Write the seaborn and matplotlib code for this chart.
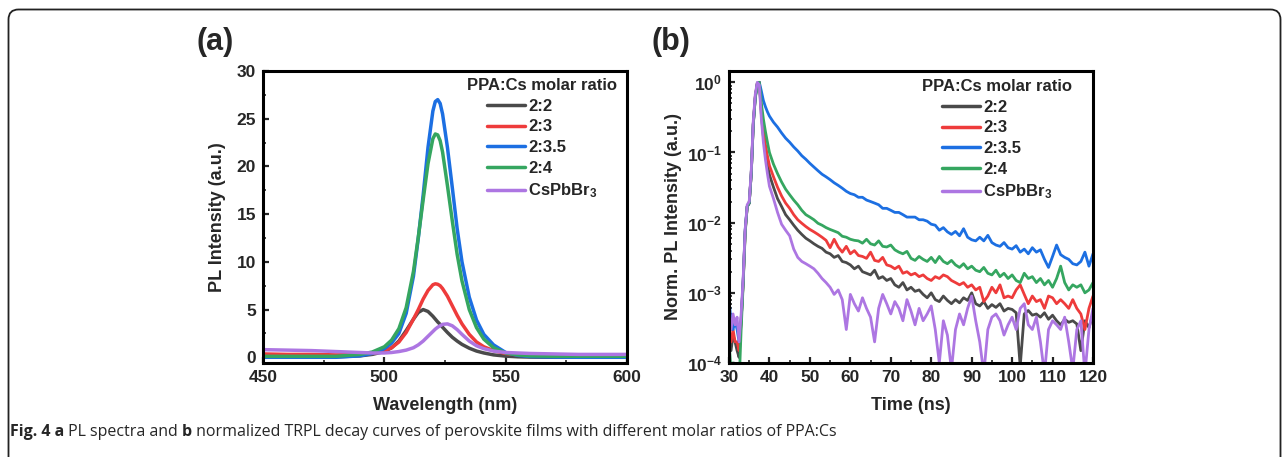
import matplotlib
matplotlib.use("Agg")
import numpy as np
import pandas as pd
import seaborn as sns
import matplotlib.pyplot as plt
from matplotlib.ticker import MultipleLocator, LogLocator, NullFormatter
from matplotlib.path import Path
from matplotlib.patches import PathPatch

# ---------------- data: panel (a) PL spectra ----------------
wavelength = [450, 460, 470, 480, 490, 495, 500, 503, 506, 509, 512, 514, 516, 518,
              520, 521, 522, 523, 524, 526, 528, 530, 532, 535, 538, 541, 545, 550,
              555, 560, 570, 580, 590, 600]
pl_2_2 = [0.05, 0.05, 0.05, 0.05, 0.15, 0.3, 0.6, 1.0, 1.7, 2.8, 4.0, 4.7, 5.0, 4.8,
          4.3, 4.0, 3.7, 3.45, 3.15, 2.6, 2.1, 1.7, 1.35, 0.95, 0.65, 0.45, 0.25, 0.12,
          0.05, 0.02, 0.0, 0.0, 0.0, 0.0]
pl_2_3 = [0.35, 0.3, 0.3, 0.25, 0.3, 0.4, 0.7, 1.0, 1.6, 2.6, 4.0, 5.0, 6.1, 7.0,
          7.6, 7.7, 7.65, 7.5, 7.2, 6.4, 5.4, 4.4, 3.5, 2.4, 1.6, 1.1, 0.7, 0.4,
          0.25, 0.15, 0.1, 0.1, 0.1, 0.1]
pl_2_35 = [0.0, 0.0, 0.0, 0.0, 0.15, 0.4, 0.9, 1.5, 2.5, 4.6, 8.5, 12.5, 17.0, 22.0,
           25.8, 26.8, 27.0, 26.6, 25.5, 22.0, 17.8, 13.5, 10.0, 6.3, 3.9, 2.4, 1.3, 0.5,
           0.2, 0.08, 0.02, 0.0, 0.0, 0.0]
pl_2_4 = [0.1, 0.1, 0.1, 0.1, 0.3, 0.55, 1.1, 1.8, 3.0, 5.2, 9.0, 12.6, 16.5, 20.3,
          22.9, 23.4, 23.3, 22.7, 21.5, 18.0, 14.3, 10.8, 8.0, 5.0, 3.1, 1.9, 1.0, 0.45,
          0.25, 0.15, 0.1, 0.1, 0.1, 0.1]
pl_cspbbr3 = [0.8, 0.75, 0.7, 0.6, 0.5, 0.45, 0.45, 0.5, 0.6, 0.75, 1.0, 1.3, 1.7, 2.2,
              2.7, 2.95, 3.15, 3.3, 3.45, 3.5, 3.3, 2.9, 2.4, 1.7, 1.2, 0.9, 0.65, 0.5,
              0.45, 0.4, 0.35, 0.3, 0.3, 0.3]

# ---------------- data: panel (b) TRPL decays ----------------
time_ns = [30, 30.5, 31, 31.5, 32, 32.5, 33, 33.5, 34, 34.5, 35, 35.5, 36, 36.5, 37, 37.5,
           38, 38.5, 39, 39.5, 40,
           41, 42, 43, 44, 45, 46, 47, 48, 49, 50, 51, 52, 53, 54, 55, 56, 57, 58, 59, 60,
           61, 62, 63, 64, 65, 66, 67, 68, 69, 70, 71, 72, 73, 74, 75, 76, 77, 78, 79, 80,
           81, 82, 83, 84, 85, 86, 87, 88, 89, 90, 91, 92, 93, 94, 95, 96, 97, 98, 99, 100,
           101, 102, 103, 104, 105, 106, 107, 108, 109, 110, 111, 112, 113, 114, 115, 116, 117, 118, 119, 120]
tr_2_2 = [2e-4, 1.5e-4, 2.5e-4, 2e-4, 1.5e-4, 1.2e-4, 4e-4, 1.4e-3, 7.5e-3, 1.7e-2, 1.9e-2, 5e-2, 0.26, 0.63, 0.98, 1.0,
          0.35, 0.17, 0.1, 0.068, 0.048,
          0.032, 0.022, 0.017, 0.013, 0.011, 0.0092, 0.0078, 0.0068, 0.006, 0.0055,
          0.005, 0.0046, 0.0043, 0.0038, 0.0036, 0.0032, 0.0034, 0.0028, 0.0027, 0.0025,
          0.0022, 0.0024, 0.002, 0.0019, 0.0018, 0.0021, 0.0016, 0.0017, 0.0015, 0.0016,
          0.0013, 0.0012, 0.0014, 0.0011, 0.0012, 0.00105, 0.0011, 0.00095, 0.00085, 0.001,
          0.0008, 0.00075, 0.0009, 0.00078, 0.0007, 0.0008, 0.00072, 0.00085, 0.00078, 0.001,
          0.0007, 0.00065, 0.00075, 0.0006, 0.00068, 0.00062, 0.0007, 0.00055, 0.0006, 0.00058,
          0.00052, 0.00009, 0.0005, 0.00056, 0.00048, 0.0005, 0.00045, 0.00052, 0.00042, 0.00048,
          0.0004, 0.00035, 0.00042, 0.00038, 0.0004, 0.00036, 0.00015, 0.0004, 0.00032, 0.0005]
tr_2_3 = [3e-4, 2e-4, 3e-4, 2e-4, 2e-4, 1.5e-4, 4e-4, 1.4e-3, 7.5e-3, 1.7e-2, 1.9e-2, 5e-2, 0.25, 0.62, 0.97, 1.0,
          0.4, 0.21, 0.13, 0.09, 0.065,
          0.045, 0.032, 0.024, 0.019, 0.016, 0.013, 0.011, 0.0098, 0.0088, 0.008,
          0.0074, 0.0068, 0.0062, 0.0056, 0.0044, 0.0058, 0.0045, 0.0038, 0.0046, 0.0036,
          0.004, 0.0034, 0.0033, 0.0031, 0.0038, 0.0029, 0.0028, 0.0032, 0.0025, 0.0024,
          0.0022, 0.0024, 0.0019, 0.002, 0.0018, 0.0019, 0.0017, 0.0018, 0.0016, 0.0015,
          0.0017, 0.0016, 0.0018, 0.0017, 0.0015, 0.0014, 0.0013, 0.0014, 0.0012, 0.0013,
          0.0011, 0.0012, 0.00075, 0.0009, 0.0012, 0.001, 0.0013, 0.00085, 0.0009, 0.00085,
          0.0011, 0.0013, 0.00095, 0.0007, 0.0009, 0.00075, 0.0008, 0.0006, 0.0009, 0.00085,
          0.0007, 0.0008, 0.0007, 0.0006, 0.0008, 0.0006, 0.0005, 0.0003, 0.0006, 0.0009]
tr_2_35 = [8e-4, 4e-4, 3e-4, 4e-4, 3e-4, 2e-4, 4e-4, 1.5e-3, 8e-3, 1.7e-2, 1.9e-2, 5e-2, 0.25, 0.6, 0.95, 1.0,
           0.75, 0.55, 0.45, 0.38, 0.33,
           0.27, 0.23, 0.19, 0.16, 0.14, 0.12, 0.105, 0.09, 0.08, 0.07,
           0.062, 0.055, 0.049, 0.045, 0.041, 0.037, 0.034, 0.031, 0.028, 0.026,
           0.025, 0.023, 0.023, 0.021, 0.02, 0.019, 0.018, 0.016, 0.016, 0.015,
           0.014, 0.014, 0.013, 0.012, 0.012, 0.012, 0.011, 0.011, 0.0105, 0.0095,
           0.0092, 0.0078, 0.0085, 0.0074, 0.0068, 0.0075, 0.0065, 0.0082, 0.0062, 0.0057,
           0.0055, 0.0062, 0.0055, 0.0066, 0.0052, 0.0048, 0.0046, 0.0052, 0.0044, 0.0042,
           0.0047, 0.0038, 0.0042, 0.0036, 0.0044, 0.0038, 0.0041, 0.003, 0.0023, 0.0033,
           0.0048, 0.0035, 0.0032, 0.003, 0.0026, 0.0025, 0.0028, 0.0038, 0.0024, 0.0036]
tr_2_4 = [2e-4, 8e-5, 1e-4, 8e-5, 6e-5, 5e-5, 3e-4, 1.3e-3, 7e-3, 1.7e-2, 1.9e-2, 5e-2, 0.25, 0.6, 0.95, 1.0,
          0.5, 0.3, 0.2, 0.14, 0.1,
          0.068, 0.05, 0.038, 0.03, 0.025, 0.021, 0.018, 0.015, 0.013, 0.012,
          0.011, 0.0098, 0.0092, 0.0085, 0.008, 0.0076, 0.0072, 0.0064, 0.0062, 0.0058,
          0.0056, 0.0055, 0.0051, 0.0058, 0.005, 0.0048, 0.0055, 0.0046, 0.0045, 0.0048,
          0.0041, 0.0038, 0.0036, 0.0039, 0.0031, 0.0029, 0.0033, 0.003, 0.0028, 0.0032,
          0.0027, 0.0033, 0.0028, 0.0026, 0.0029, 0.0025, 0.0023, 0.0026, 0.0022, 0.0024,
          0.0021, 0.002, 0.0023, 0.0019, 0.0018, 0.0021, 0.0017, 0.0019, 0.0016, 0.0018,
          0.0015, 0.0014, 0.0019, 0.0016, 0.0017, 0.0014, 0.0016, 0.0013, 0.0015, 0.0012,
          0.0016, 0.0024, 0.0014, 0.0011, 0.0013, 0.0012, 0.0013, 0.001, 0.0011, 0.0014]
tr_cspbbr3 = [5e-4, 3e-4, 5e-4, 3.5e-4, 4.5e-4, 2e-4, 5e-4, 1.6e-3, 8e-3, 1.8e-2, 2e-2, 5.5e-2, 0.28, 0.68, 1.0, 0.92,
              0.3, 0.14, 0.08, 0.05, 0.033,
              0.022, 0.014, 0.0095, 0.0078, 0.0065, 0.0042, 0.0032, 0.0028, 0.0026, 0.0024,
              0.0022, 0.0019, 0.0016, 0.0014, 0.0012, 0.00095, 0.0011, 0.0008, 0.0003, 0.00095,
              0.0007, 0.00055, 0.00085, 0.0006, 0.00045, 0.0002, 0.0006, 0.00095, 0.0007, 0.0005,
              0.00075, 0.0006, 0.0004, 0.0008, 0.00055, 0.00035, 0.0006, 0.0004, 0.0005, 0.00065,
              0.0003, 0.0001, 0.0004, 0.00025, 0.00008, 0.0003, 0.0005, 0.00035, 0.0006, 0.0009,
              0.0004, 0.0002, 0.00007, 0.0003, 0.00045, 0.0005, 0.0004, 0.00025, 0.00035, 0.00045,
              0.0003, 0.0006, 0.0007, 0.00035, 0.0003, 0.00045, 0.0002, 0.00007, 0.0003, 0.0004,
              0.00035, 0.0003, 0.00045, 0.0002, 0.00008, 0.0003, 0.0004, 0.00007, 0.0003, 0.0006]

labels = ["2:2", "2:3", "2:3.5", "2:4", r"CsPbBr$_3$"]
colors = ["#4a4a4a", "#ee3b3b", "#1c6fe2", "#35a660", "#ad76e2"]
legend_title = "PPA:Cs molar ratio"
caption_parts = [("Fig. 4 a", "bold"), (" PL spectra and ", "normal"), ("b", "bold"),
                 (" normalized TRPL decay curves of perovskite films with different molar ratios of PPA:Cs", "normal")]

# ---------------- style ----------------
sns.set_style("ticks")
plt.rcParams.update({
    "font.family": ["Liberation Sans", "DejaVu Sans"],
    "font.weight": "bold",
    "axes.labelweight": "bold",
    "mathtext.fontset": "custom",
    "mathtext.rm": "Liberation Sans:bold",
    "mathtext.it": "Liberation Sans:bold",
    "mathtext.bf": "Liberation Sans:bold",
    "mathtext.default": "rm",
    "axes.linewidth": 2.2,
    "axes.edgecolor": "black",
})

W, H = 1284, 457
fig = plt.figure(figsize=(W / 100, H / 100), dpi=100)

def px_axes(l, t, r, b):
    return fig.add_axes([l / W, 1 - b / H, (r - l) / W, (b - t) / H])

axa = px_axes(263, 71, 627, 363)
axb = px_axes(729, 71, 1093, 363)

pl_series = [pl_2_2, pl_2_3, pl_2_35, pl_2_4, pl_cspbbr3]
tr_series = [tr_2_2, tr_2_3, tr_2_35, tr_2_4, tr_cspbbr3]

for ys, c, lab in zip(pl_series, colors, labels):
    sns.lineplot(x=wavelength, y=ys, color=c, label=lab, ax=axa, linewidth=2.5)
for ys, c, lab in zip(tr_series, colors, labels):
    sns.lineplot(x=time_ns, y=ys, color=c, label=lab, ax=axb, linewidth=2.0)

axa.set_xlim(450, 600)
axa.set_ylim(-0.6, 30)
axa.xaxis.set_major_locator(MultipleLocator(50))
axa.xaxis.set_minor_locator(MultipleLocator(25))
axa.yaxis.set_major_locator(MultipleLocator(5))
axa.yaxis.set_minor_locator(MultipleLocator(2.5))

axb.set_yscale("log")
axb.set_xlim(30, 120)
axb.set_ylim(1e-4, 1.45)
axb.xaxis.set_major_locator(MultipleLocator(10))
axb.xaxis.set_minor_locator(MultipleLocator(5))
axb.yaxis.set_major_locator(LogLocator(base=10, numticks=10))
axb.yaxis.set_minor_locator(LogLocator(base=10, subs=np.arange(2, 10) * 1.0, numticks=20))
axb.yaxis.set_minor_formatter(NullFormatter())

for ax in (axa, axb):
    ax.tick_params(which="major", direction="in", length=4, width=1.6, labelsize=12.5, pad=5)
    ax.tick_params(which="minor", direction="in", length=2.5, width=1.2)
    for s in ax.spines.values():
        s.set_linewidth(2.2)
    for lbl in ax.get_xticklabels() + ax.get_yticklabels():
        lbl.set_fontweight("bold")

axa.set_xlabel("Wavelength (nm)", fontsize=13, fontweight="bold", va="center")
axa.set_ylabel("PL Intensity (a.u.)", fontsize=13, fontweight="bold", va="center")
axb.set_xlabel("Time (ns)", fontsize=13, fontweight="bold", va="center")
axb.set_ylabel("Norm. PL Intensity (a.u.)", fontsize=13, fontweight="bold", va="center")
axa.xaxis.set_label_coords(0.5, -(405 - 363) / 292)
axb.xaxis.set_label_coords(0.5, -(405 - 363) / 292)
axa.yaxis.set_label_coords((217 - 263) / 364, 0.5)
axb.yaxis.set_label_coords((673 - 729) / 364, 0.5)

# legends: (title centre x, top y) in pixels
for ax, (cx, ty) in ((axa, (542, 78)), (axb, (997, 79))):
    leg = ax.legend(loc="upper center", bbox_to_anchor=(cx / W, 1 - ty / H),
                    bbox_transform=fig.transFigure, frameon=False,
                    title=legend_title, fontsize=12, title_fontsize=12,
                    handlelength=2.3, handletextpad=0.2, labelspacing=0.34,
                    borderpad=0.0, borderaxespad=0.0)
    leg.get_title().set_fontweight("bold")
    for t in leg.get_texts():
        t.set_fontweight("bold")
    for h in leg.get_lines():
        h.set_linewidth(2.5)

fig.text(196 / W, 1 - 42 / H, "(a)", fontsize=22, fontweight="bold", va="center", ha="left")
fig.text(652 / W, 1 - 42 / H, "(b)", fontsize=22, fontweight="bold", va="center", ha="left")

# ---------------- border frame ----------------
frame = fig.add_axes([0, 0, 1, 1], zorder=-5)
frame.set_xlim(0, W)
frame.set_ylim(H, 0)
frame.axis("off")
r = 10
xl, xr, yt, yb = 8.5, 1280.5, 9.5, H + 2
verts = [(xl, yb), (xl, yt + r), (xl, yt), (xl + r, yt), (xr - r, yt), (xr, yt), (xr, yt + r), (xr, yb)]
codes = [Path.MOVETO, Path.LINETO, Path.CURVE3, Path.CURVE3, Path.LINETO, Path.CURVE3, Path.CURVE3, Path.LINETO]
frame.add_patch(PathPatch(Path(verts, codes), fill=False, lw=1.3, edgecolor="#222222"))

# ---------------- caption ----------------
fig.canvas.draw()
renderer = fig.canvas.get_renderer()
x = 10
for txt, wgt in caption_parts:
    t = fig.text(x / W, 1 - 432 / H, txt, fontsize=11.5, fontweight=wgt,
                 family=["Open Sans", "DejaVu Sans"], va="center", ha="left")
    bb = t.get_window_extent(renderer=renderer)
    x = bb.x1

fig.savefig("out.png", dpi=100)
